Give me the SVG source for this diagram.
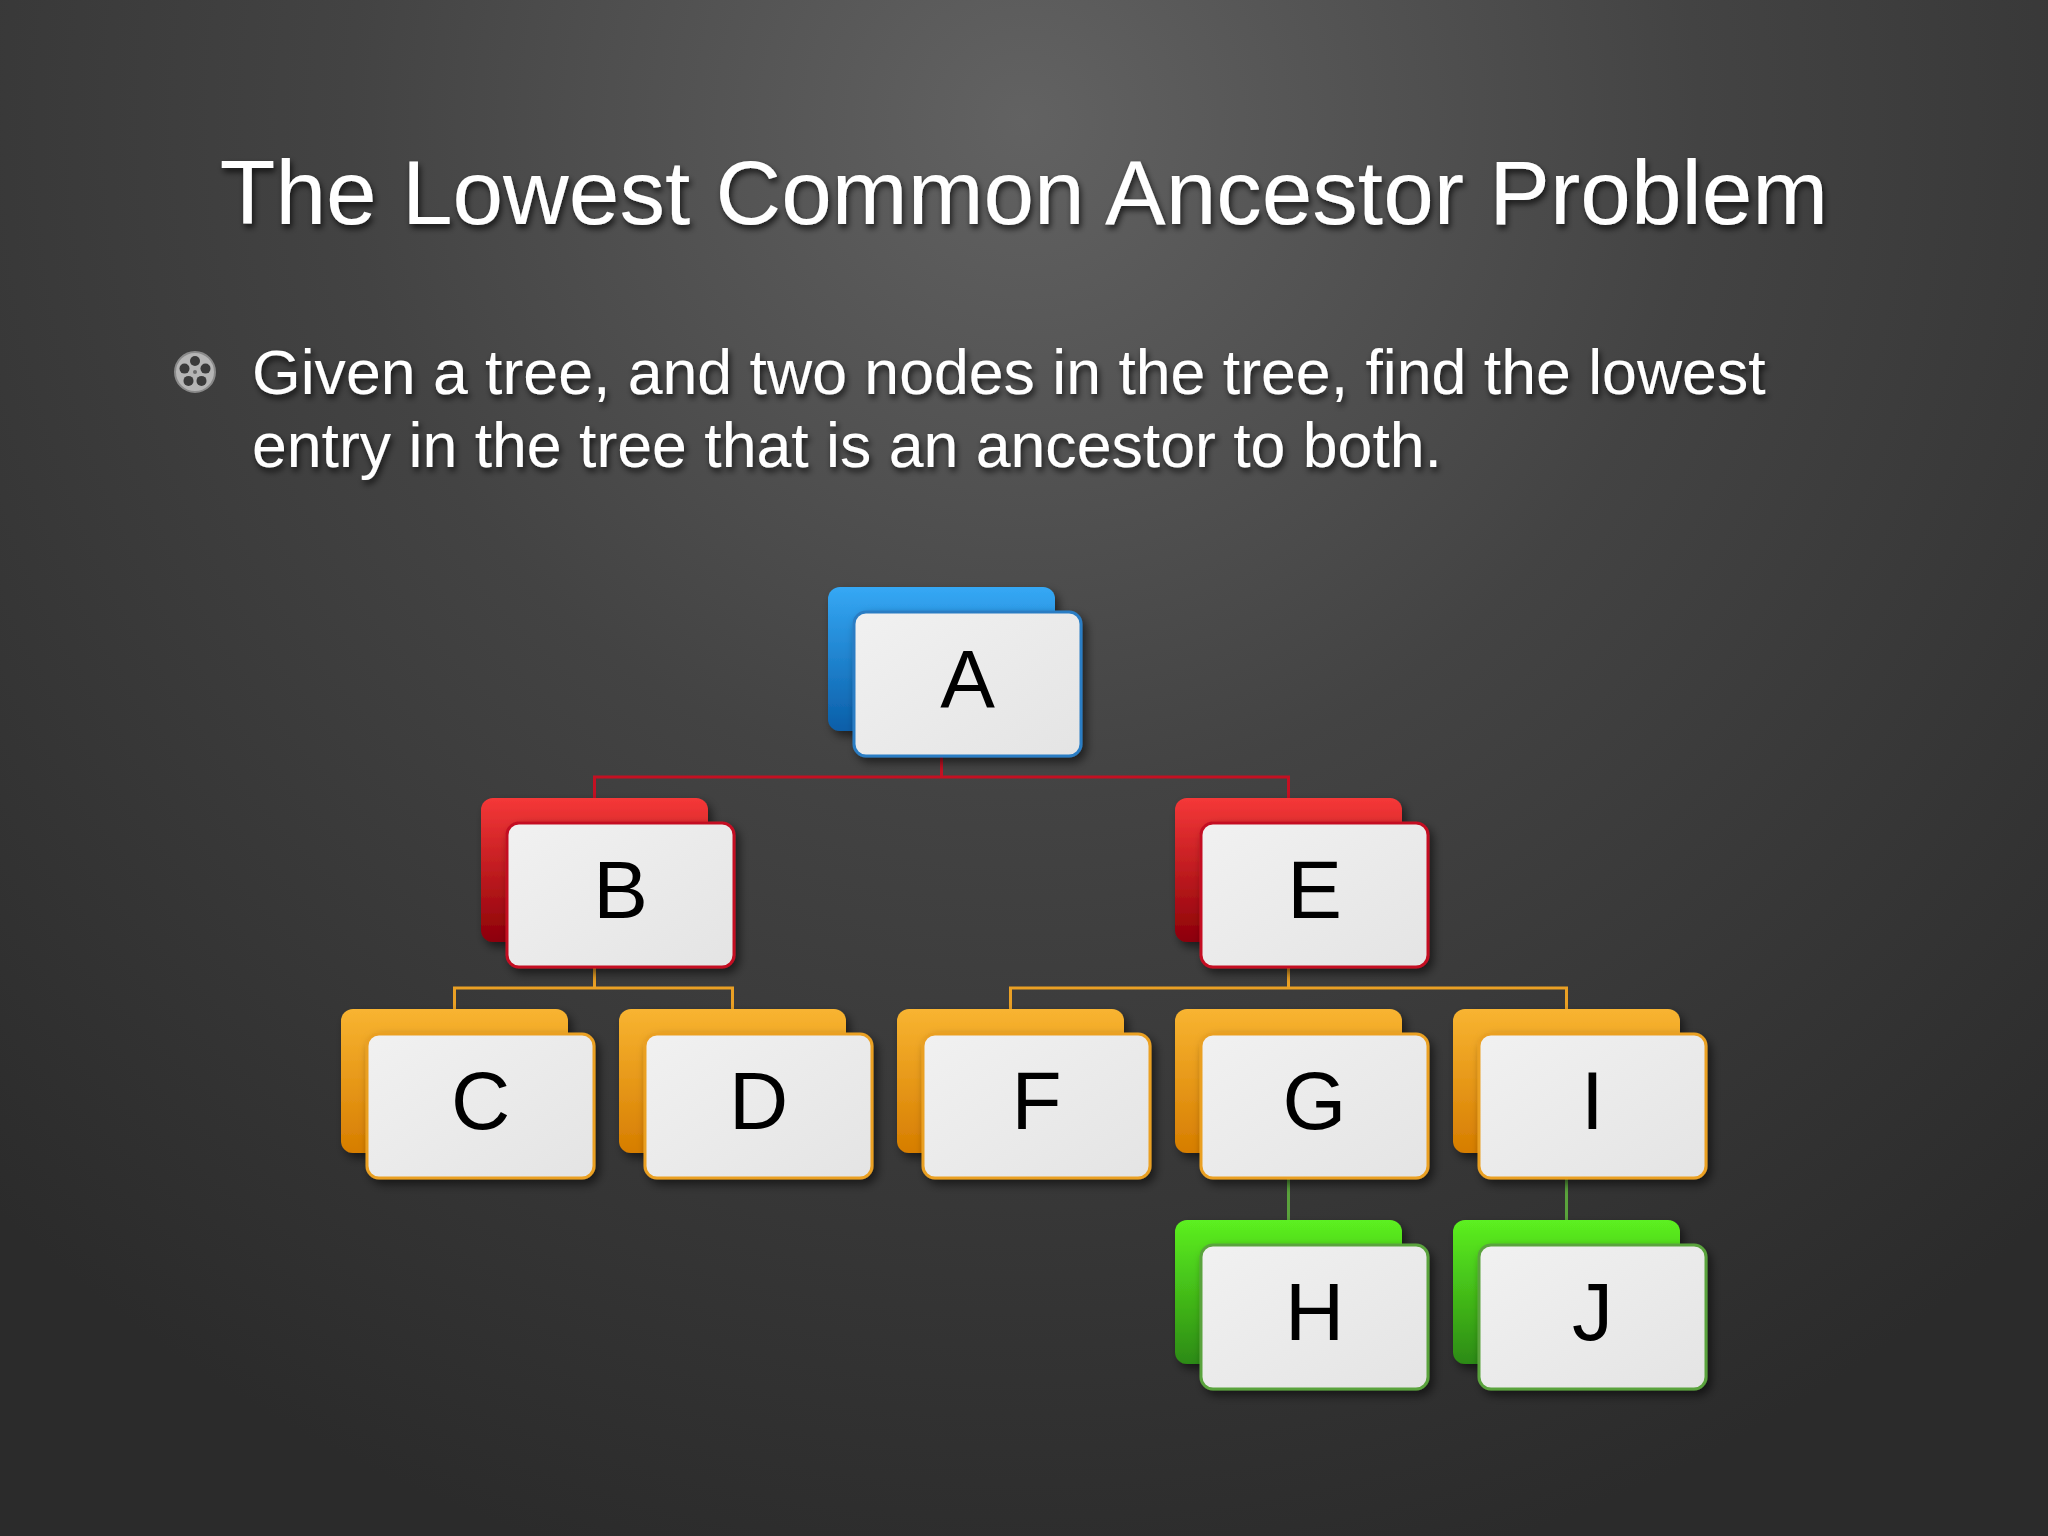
<svg xmlns="http://www.w3.org/2000/svg" width="2048" height="1536" viewBox="0 0 2048 1536">
<defs>
  <radialGradient id="bg" cx="1024" cy="120" r="1500" gradientUnits="userSpaceOnUse">
    <stop offset="0" stop-color="#626262"/>
    <stop offset="0.45" stop-color="#434343"/>
    <stop offset="1" stop-color="#2b2b2b"/>
  </radialGradient>
  <linearGradient id="gBlue" x1="0" y1="0" x2="0" y2="1">
    <stop offset="0" stop-color="#35a8f5"/>
    <stop offset="1" stop-color="#0a5ea8"/>
  </linearGradient>
  <linearGradient id="gRed" x1="0" y1="0" x2="0" y2="1">
    <stop offset="0" stop-color="#f53838"/>
    <stop offset="1" stop-color="#8c0008"/>
  </linearGradient>
  <linearGradient id="gOrange" x1="0" y1="0" x2="0" y2="1">
    <stop offset="0" stop-color="#f8b431"/>
    <stop offset="1" stop-color="#d67d00"/>
  </linearGradient>
  <linearGradient id="gGreen" x1="0" y1="0" x2="0" y2="1">
    <stop offset="0" stop-color="#5cf020"/>
    <stop offset="1" stop-color="#2c8a12"/>
  </linearGradient>
  <linearGradient id="gFace" x1="0" y1="0" x2="1" y2="1">
    <stop offset="0" stop-color="#f1f1f1"/>
    <stop offset="1" stop-color="#e4e4e4"/>
  </linearGradient>
  <filter id="cardShadow" x="-20%" y="-20%" width="150%" height="150%">
    <feDropShadow dx="4" dy="5" stdDeviation="5" flood-color="#000" flood-opacity="0.55"/>
  </filter>
  <filter id="textShadow" x="-5%" y="-20%" width="110%" height="150%">
    <feDropShadow dx="2" dy="4" stdDeviation="3" flood-color="#000" flood-opacity="0.7"/>
  </filter>
</defs>
<style>
  .title { font-family: "Liberation Sans", Arial, sans-serif; font-size: 91px; fill: #ffffff; }
  .body { font-family: "Liberation Sans", Arial, sans-serif; font-size: 62.6px; fill: #ffffff; }
  .lbl { font-family: "Liberation Sans", Arial, sans-serif; font-size: 82px; fill: #000000; text-anchor: middle; }
  .back { filter: url(#cardShadow); }
  .face { fill: url(#gFace); stroke-width: 3; filter: url(#cardShadow); }
  .blue .back { fill: url(#gBlue); }
  .blue .face { stroke: #2a7dc4; }
  .red .back { fill: url(#gRed); }
  .red .face { stroke: #c41022; }
  .orange .back { fill: url(#gOrange); }
  .orange .face { stroke: #eaa024; }
  .green .back { fill: url(#gGreen); }
  .green .face { stroke: #5aa33c; }
  .conn { fill: none; stroke-width: 3; }
  .c-red { stroke: #c41022; }
  .c-orange { stroke: #eaa024; }
  .c-green { stroke: #5aa33c; }
</style>

<rect x="0" y="0" width="2048" height="1536" fill="url(#bg)"/>

<text class="title" x="1024" y="224" text-anchor="middle" filter="url(#textShadow)">The Lowest Common Ancestor Problem</text>

<g id="bullet">
  <circle cx="195" cy="372" r="20" fill="#b5b5b5" stroke="#8a8a8a" stroke-width="2"/>
  <circle cx="195" cy="361" r="5" fill="#3a3a3a"/>
  <circle cx="205.5" cy="368.6" r="5" fill="#3a3a3a"/>
  <circle cx="201.5" cy="380.9" r="5" fill="#3a3a3a"/>
  <circle cx="188.5" cy="380.9" r="5" fill="#3a3a3a"/>
  <circle cx="184.5" cy="368.6" r="5" fill="#3a3a3a"/>
  <circle cx="195" cy="372" r="2" fill="#6a6a6a"/>
</g>
<g filter="url(#textShadow)">
  <text class="body" x="252" y="394">Given a tree, and two nodes in the tree, find the lowest</text>
  <text class="body" x="252" y="467">entry in the tree that is an ancestor to both.</text>
</g>

<g id="connectors">
  <path class="conn c-red" d="M941.5 756 V777 M594.5 799 V777 H1288.5 V799"/>
  <path class="conn c-orange" d="M594.5 967 V988 M454.5 1009 V988 H732.5 V1009"/>
  <path class="conn c-orange" d="M1288.5 967 V988 M1010.5 1009 V988 H1566.5 V1009"/>
  <path class="conn c-green" d="M1288.5 1178 V1220"/>
  <path class="conn c-green" d="M1566.5 1178 V1220"/>
</g>

<g id="node-A" class="blue">
  <rect class="back" x="828" y="587" width="227" height="144" rx="12"/>
  <rect class="face" x="854" y="612" width="227" height="144" rx="12"/>
  <text class="lbl" x="967.5" y="707">A</text>
</g>
<g id="node-B" class="red">
  <rect class="back" x="481" y="798" width="227" height="144" rx="12"/>
  <rect class="face" x="507" y="823" width="227" height="144" rx="12"/>
  <text class="lbl" x="620.5" y="918">B</text>
</g>
<g id="node-E" class="red">
  <rect class="back" x="1175" y="798" width="227" height="144" rx="12"/>
  <rect class="face" x="1201" y="823" width="227" height="144" rx="12"/>
  <text class="lbl" x="1314.5" y="918">E</text>
</g>
<g id="node-C" class="orange">
  <rect class="back" x="341" y="1009" width="227" height="144" rx="12"/>
  <rect class="face" x="367" y="1034" width="227" height="144" rx="12"/>
  <text class="lbl" x="480.5" y="1129">C</text>
</g>
<g id="node-D" class="orange">
  <rect class="back" x="619" y="1009" width="227" height="144" rx="12"/>
  <rect class="face" x="645" y="1034" width="227" height="144" rx="12"/>
  <text class="lbl" x="758.5" y="1129">D</text>
</g>
<g id="node-F" class="orange">
  <rect class="back" x="897" y="1009" width="227" height="144" rx="12"/>
  <rect class="face" x="923" y="1034" width="227" height="144" rx="12"/>
  <text class="lbl" x="1036.5" y="1129">F</text>
</g>
<g id="node-G" class="orange">
  <rect class="back" x="1175" y="1009" width="227" height="144" rx="12"/>
  <rect class="face" x="1201" y="1034" width="227" height="144" rx="12"/>
  <text class="lbl" x="1314.5" y="1129">G</text>
</g>
<g id="node-I" class="orange">
  <rect class="back" x="1453" y="1009" width="227" height="144" rx="12"/>
  <rect class="face" x="1479" y="1034" width="227" height="144" rx="12"/>
  <text class="lbl" x="1592.5" y="1129">I</text>
</g>
<g id="node-H" class="green">
  <rect class="back" x="1175" y="1220" width="227" height="144" rx="12"/>
  <rect class="face" x="1201" y="1245" width="227" height="144" rx="12"/>
  <text class="lbl" x="1314.5" y="1340">H</text>
</g>
<g id="node-J" class="green">
  <rect class="back" x="1453" y="1220" width="227" height="144" rx="12"/>
  <rect class="face" x="1479" y="1245" width="227" height="144" rx="12"/>
  <text class="lbl" x="1592.5" y="1340">J</text>
</g>
</svg>
